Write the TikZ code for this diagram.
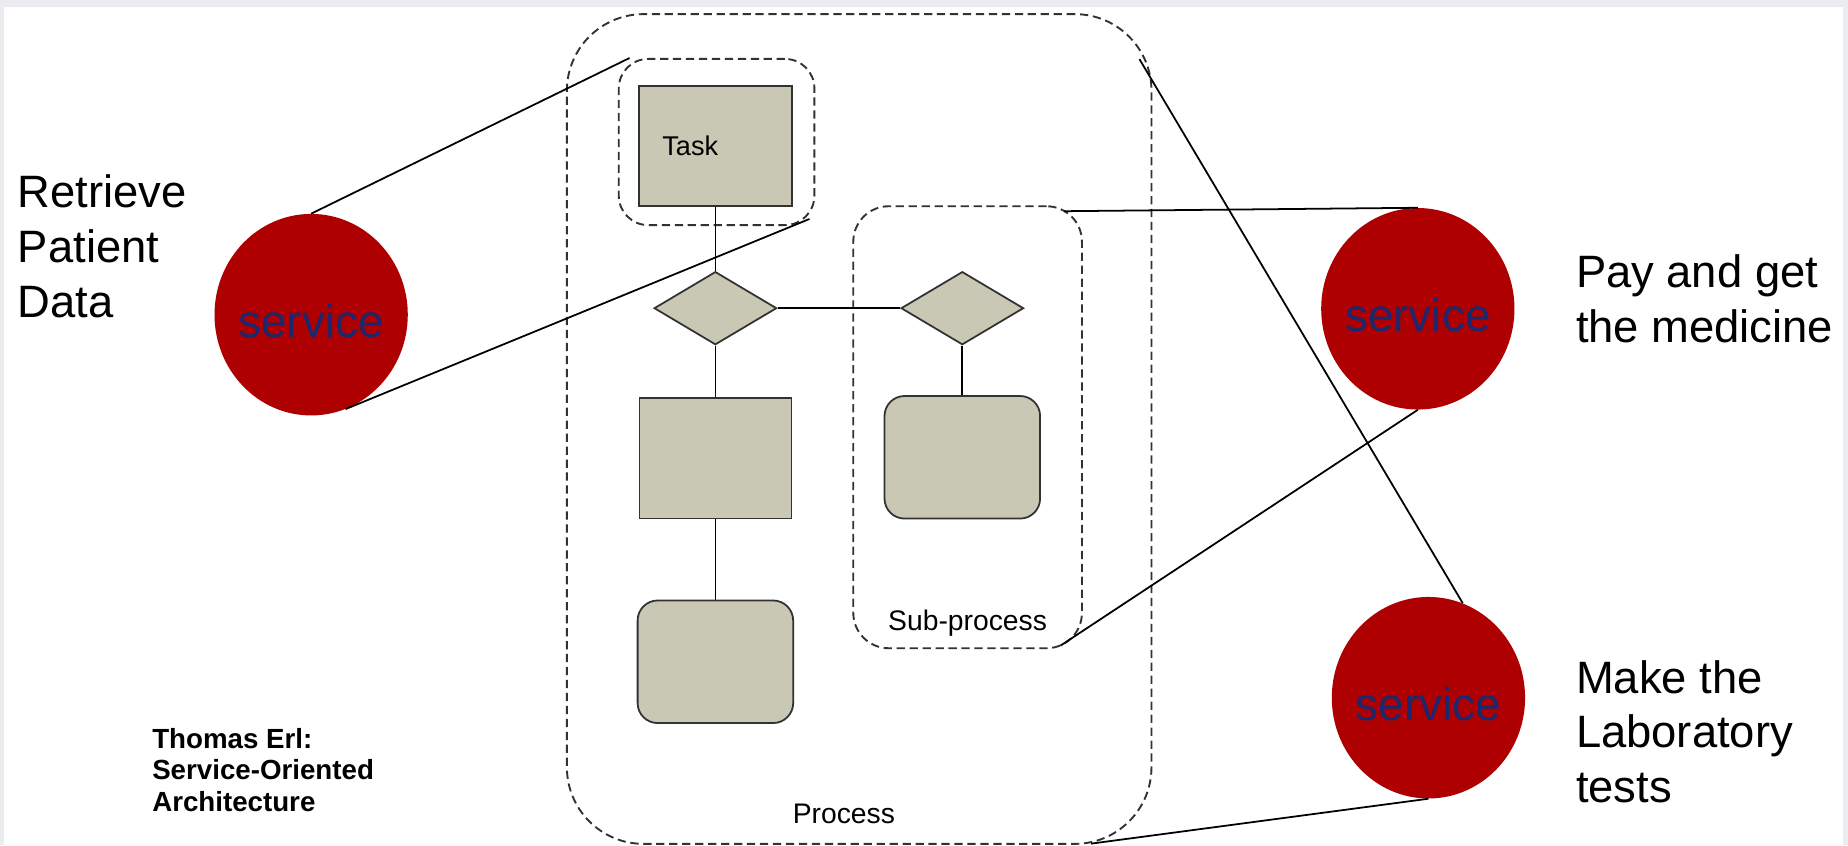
\documentclass[tikz,border=0pt]{standalone}
\usepackage{fontspec}
\setmainfont{Liberation Sans}
\usetikzlibrary{shapes.geometric,positioning}
\definecolor{svcred}{RGB}{174,0,0}
\definecolor{svcblue}{RGB}{28,40,110}
\definecolor{khaki}{RGB}{200,200,180}
\definecolor{edge}{RGB}{50,50,50}
\definecolor{frame}{RGB}{235,236,240}
\tikzstyle{svc}=[ellipse,fill=svcred,minimum width=164pt,minimum height=171pt,inner sep=-10pt,text height=38pt,text depth=0pt,text=svcblue,font=\fontsize{39}{44}\selectfont]
\tikzstyle{taskbox}=[rectangle,draw=edge,fill=khaki,line width=1.5pt,minimum width=130pt,minimum height=102pt,text width=90pt,align=left,font=\fontsize{23}{27}\selectfont]
\tikzstyle{actbox}=[rectangle,draw=edge,fill=khaki,line width=1.5pt,minimum width=129pt,minimum height=102pt]
\tikzstyle{roundbox}=[rectangle,draw=edge,fill=khaki,line width=1.5pt,rounded corners=17pt,minimum width=132pt,minimum height=104pt]
\tikzstyle{gate}=[diamond,draw=edge,fill=khaki,line width=1.5pt,minimum width=104pt,minimum height=62pt,inner sep=0pt]
\tikzstyle{grp}=[rectangle,draw=edge,dash pattern=on 7pt off 4pt,line width=1.6pt]
\tikzstyle{lbl}=[inner sep=0pt,font=\fontsize{24}{28}\selectfont]
\tikzstyle{note}=[inner sep=0pt,align=left,anchor=north west,font=\fontsize{38.5}{46.5}\selectfont]
\tikzstyle{credit}=[inner sep=0pt,align=left,anchor=north west,font=\bfseries\fontsize{23.5}{26.5}\selectfont]
\tikzstyle{link}=[draw=black,line width=1.5pt]

\begin{document}
\begin{tikzpicture}[x=1pt,y=-1pt]
\useasboundingbox (0,0) rectangle (1568,717);
\fill[frame] (0,0) rectangle (1568,717);
\fill[white] (3,6) rectangle (1564,717);

% dashed groupings
\node[grp,rounded corners=65pt,minimum width=496pt,minimum height=704pt] (process) at (729,364) {};
\node[grp,rounded corners=25pt,minimum width=166pt,minimum height=141pt] (taskgrp) at (608,120.5) {};
\node[grp,rounded corners=30pt,minimum width=194pt,minimum height=375pt] (subgrp) at (821,362.5) {};
\node[lbl,anchor=base] (procname) at (716,699) {Process};
\node[lbl,anchor=base] (subname) at (821,535) {Sub-process};

% process steps
\node[taskbox] (task) at (607,124) {Task};
\node[gate, below=54pt of task] (gate1) {};
\node[gate, right=104pt of gate1] (gate2) {};
\node[actbox, below=44pt of gate1] (act1) {};
\node[roundbox, below=68pt of act1] (act2) {};
\node[roundbox, below=42pt of gate2] (act3) {};
\path[link] (task) -- (gate1);
\path[link] (gate1) -- (gate2);
\path[link] (gate1) -- (act1);
\path[link] (act1) -- (act2);
\path[link] (gate2) -- (act3);

% services
\node[svc] (svcdata) at (264,267) {service};
\node[svc] (svcpay) at (1203,262) {service};
\node[svc] (svclab) at (1212,592) {service};
\node[note] (txtdata) at (15,148) {Retrieve\\Patient\\Data};
\node[note] (txtpay) at (1337,216) {Pay and get\\the medicine};
\node[note] (txtlab) at (1337,560) {Make the\\Laboratory\\tests};
\node[credit] (credit) at (129,618) {Thomas Erl:\\Service-Oriented\\Architecture};

% service to part of the process
\path[link] (svcdata.north) -- ([xshift=10pt]taskgrp.north west);
\path[link] (svcdata.-70) -- ([xshift=-5pt,yshift=6pt]taskgrp.south east);
\path[link] (svcpay.north) -- ([xshift=-16pt,yshift=-5pt]subgrp.north east);
\path[link] (svcpay.south) -- ([xshift=-19pt,yshift=3pt]subgrp.south east);
\path[link] (svclab.70) -- ([xshift=-11pt,yshift=-39pt]process.north east);
\path[link] (svclab.south) -- ([xshift=-52pt,yshift=1pt]process.south east);
\end{tikzpicture}
\end{document}
